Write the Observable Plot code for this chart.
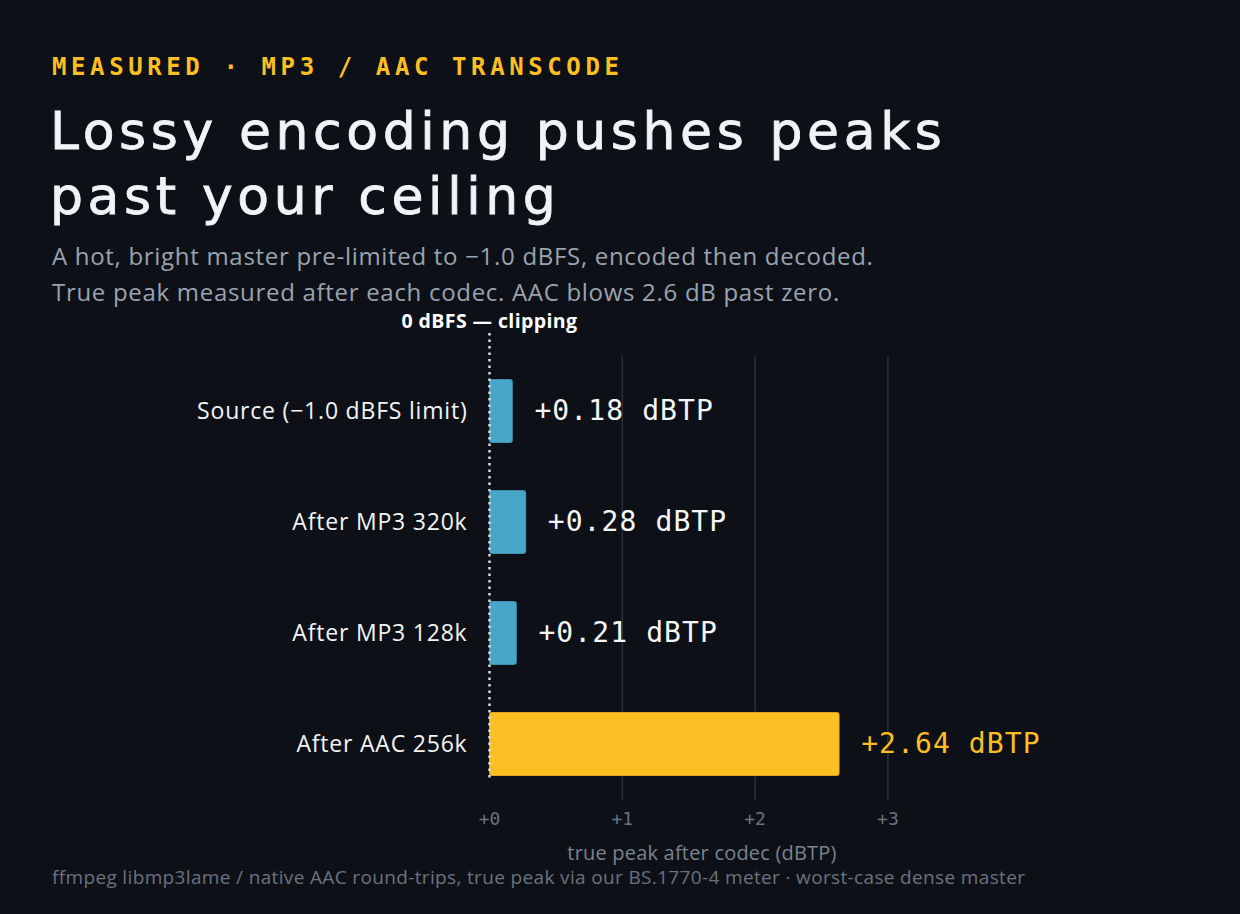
<!DOCTYPE html>
<html>
<head>
<meta charset="utf-8">
<script src="https://cdn.jsdelivr.net/npm/d3@7"></script>
<script src="https://cdn.jsdelivr.net/npm/@observablehq/plot@0.6"></script>
<style>
  html, body { margin: 0; padding: 0; background: #0d1117; }
  body { width: 1240px; height: 914px; position: relative; overflow: hidden; font-family: "Open Sans", Lato, sans-serif; }
  .eyebrow { position: absolute; left: 52px; top: 55px; font-family: "DejaVu Sans Mono", monospace; font-weight: 700; font-size: 24px; line-height: 1; letter-spacing: 4.6px; color: #fbbf24; white-space: nowrap; }
  .title { position: absolute; left: 50px; top: 99px; font-family: "DejaVu Sans", sans-serif; font-weight: 400; font-size: 52px; line-height: 65px; color: #f1f3f6; white-space: nowrap; letter-spacing: 4.6px; -webkit-text-stroke: 0.8px #f1f3f6; }
  .sub { position: absolute; left: 52px; font-size: 24px; line-height: 22px; letter-spacing: 0.7px; color: #9aa3b0; white-space: nowrap; }
  .caption { position: absolute; left: 52px; top: 868px; font-size: 19px; line-height: 18px; letter-spacing: 0.35px; color: #6b7280; white-space: nowrap; }
  #chart { position: absolute; left: 0; top: 300px; }
</style>
</head>
<body>
<div class="eyebrow">MEASURED · MP3 / AAC TRANSCODE</div>
<div class="title">Lossy encoding pushes peaks<br>past your ceiling</div>
<div class="sub" style="top: 245px">A hot, bright master pre-limited to −1.0 dBFS, encoded then decoded.</div>
<div class="sub" style="top: 281px">True peak measured after each codec. AAC blows 2.6 dB past zero.</div>
<div id="chart"></div>
<div class="caption">ffmpeg libmp3lame / native AAC round-trips, true peak via our BS.1770-4 meter · worst-case dense master</div>
<script>
// Stages of the round-trip and the true peak measured after each one (dBTP)
const stages = ["Source (−1.0 dBFS limit)", "After MP3 320k", "After MP3 128k", "After AAC 256k"];
const peaks = [0.18, 0.28, 0.21, 2.64];
const codecs = ["source", "mp3", "mp3", "aac"];
const xTicks = [0, 1, 2, 3];
const ceilingLabel = "0 dBFS — clipping";
const xLabel = "true peak after codec (dBTP)";

const BLUE = "#48a6c9";
const YELLOW = "#fbbf24";
const MONO = "DejaVu Sans Mono, monospace";
const SANS = "Open Sans, Lato, sans-serif";

const rows = stages.map((stage, i) => ({stage, peak: peaks[i], codec: codecs[i]}));

const chart = Plot.plot({
  width: 1240,
  height: 600,
  marginLeft: 489,
  marginRight: 326,
  marginTop: 56,
  marginBottom: 100,
  style: {background: "transparent", color: "#f3f4f6", overflow: "visible"},
  x: {domain: [0, 3.2]},
  y: {domain: stages, paddingInner: 0.42, paddingOuter: 0.21},
  color: {domain: ["source", "mp3", "aac"], range: [BLUE, BLUE, YELLOW]},
  marks: [
    Plot.gridX(xTicks.filter(d => d > 0), {stroke: "#2a2f39", strokeOpacity: 1, strokeWidth: 1.5}),
    Plot.axisY({tickSize: 0, tickPadding: 22, label: null, fontSize: 23, fontFamily: SANS, fill: "#f3f4f6"}),
    Plot.axisX({
      ticks: xTicks, tickFormat: d => "+" + d, tickSize: 0, tickPadding: 12,
      fontSize: 18, fontFamily: MONO, fill: "#6b7280",
      label: xLabel, labelAnchor: "center", labelArrow: "none", labelOffset: 59
    }),
    Plot.barX(rows, {x: "peak", y: "stage", fill: "codec", rx: 3}),
    Plot.barX(rows, {x: "peak", y: "stage", fill: "none", stroke: "#000", strokeOpacity: 0.18, strokeWidth: 1.5, rx: 3}),
    Plot.ruleX([0], {stroke: "#d7dbe0", strokeWidth: 2.5, strokeDasharray: "2.5,4", insetTop: -23, insetBottom: 22}),
    Plot.text([ceilingLabel], {x: 0, frameAnchor: "top", lineAnchor: "middle", dy: -35, text: d => d, fontSize: 19.5, fontWeight: 700, fontFamily: SANS, fill: "#ffffff", textAnchor: "middle"}),
    Plot.text(rows, {
      x: "peak", y: "stage", dx: 21, textAnchor: "start",
      text: d => "+" + d.peak.toFixed(2) + " dBTP",
      fill: d => d.codec === "aac" ? YELLOW : "#f5f6f8",
      fontSize: 28, fontFamily: MONO
    })
  ]
});

// Text spacing and axis-title styling
const spacing = (selector, value) => chart.querySelectorAll(selector).forEach(t => t.setAttribute("letter-spacing", value));
chart.querySelectorAll("[aria-label='x-axis label'] text").forEach(t => { t.setAttribute("fill", "#7b8290"); t.setAttribute("font-family", SANS); t.setAttribute("font-size", 20); });
spacing("[aria-label='x-axis label'] text", "0.2");
spacing("[aria-label='y-axis tick label'] text", "0.8");
spacing("[aria-label='text'] text", "0.4");
chart.querySelectorAll("[aria-label='text']").forEach(g => {
  if (g.querySelectorAll("text").length === rows.length) g.querySelectorAll("text").forEach(t => t.setAttribute("letter-spacing", "1.1"));
});
document.getElementById("chart").appendChild(chart);
</script>
</body>
</html>
